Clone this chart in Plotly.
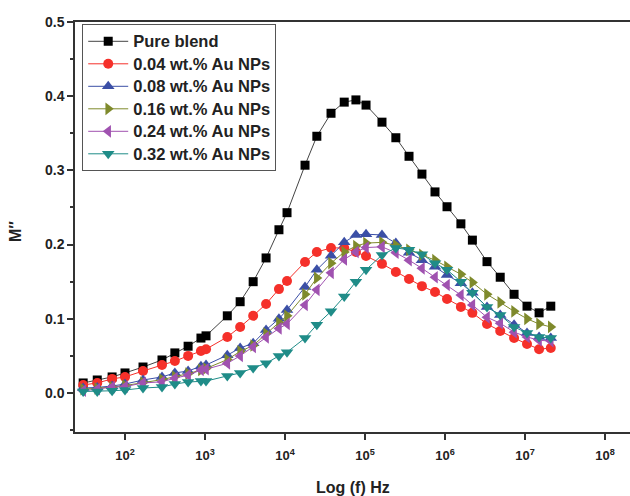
import plotly.graph_objects as go

freq = [30, 45, 69, 100, 168, 290, 420, 615, 890, 1030, 1900, 2750, 4000, 5800, 8400,
        10600, 17800, 25000, 37600, 55000, 77000, 103000, 163000, 243000, 355000, 515000,
        750000, 1060000, 1580000, 2200000, 3350000, 4900000, 7300000, 10600000, 15000000, 21000000]

pure_blend = [0.0135, 0.0175, 0.0216, 0.027, 0.035, 0.0445, 0.054, 0.063, 0.074, 0.077,
              0.104, 0.123, 0.150, 0.182, 0.220, 0.243, 0.307, 0.346, 0.377, 0.392, 0.395,
              0.388, 0.365, 0.344, 0.319, 0.295, 0.271, 0.251, 0.228, 0.206, 0.177, 0.156,
              0.133, 0.117, 0.108, 0.117]
au_004 = [0.0108, 0.0135, 0.019, 0.0216, 0.0296, 0.0377, 0.043, 0.050, 0.0566, 0.059,
          0.0755, 0.089, 0.104, 0.120, 0.140, 0.151, 0.1765, 0.190, 0.1955, 0.1955, 0.190,
          0.1846, 0.174, 0.163, 0.1536, 0.144, 0.136, 0.1267, 0.116, 0.108, 0.093, 0.0836,
          0.074, 0.066, 0.059, 0.0606]
au_008 = [0.0067, 0.0075, 0.0094, 0.012, 0.0175, 0.0216, 0.027, 0.0296, 0.036, 0.0377,
          0.051, 0.0606, 0.067, 0.085, 0.100, 0.112, 0.143, 0.166, 0.185, 0.203, 0.213,
          0.214, 0.213, 0.202, 0.189, 0.179, 0.170, 0.159, 0.148, 0.135, 0.116, 0.105,
          0.092, 0.081, 0.0755, 0.074]
au_016 = [0.005, 0.006, 0.008, 0.010, 0.014, 0.018, 0.022, 0.026, 0.031, 0.033,
          0.045, 0.056, 0.064, 0.080, 0.095, 0.104, 0.133, 0.155, 0.175, 0.190, 0.198,
          0.202, 0.203, 0.199, 0.193, 0.186, 0.179, 0.170, 0.160, 0.149, 0.133, 0.122,
          0.110, 0.100, 0.093, 0.089]
au_024 = [0.003, 0.005, 0.008, 0.0085, 0.0135, 0.015, 0.020, 0.024, 0.031, 0.032,
          0.040, 0.050, 0.062, 0.075, 0.087, 0.093, 0.1186, 0.139, 0.162, 0.180, 0.190,
          0.196, 0.197, 0.189, 0.179, 0.168, 0.156, 0.1455, 0.132, 0.1186, 0.102, 0.094,
          0.082, 0.0755, 0.071, 0.070]
au_032 = [0.002, 0.002, 0.003, 0.004, 0.0067, 0.008, 0.012, 0.0148, 0.016, 0.016,
          0.023, 0.027, 0.0337, 0.040, 0.050, 0.055, 0.074, 0.092, 0.110, 0.130, 0.150,
          0.166, 0.186, 0.1955, 0.193, 0.187, 0.175, 0.166, 0.150, 0.135, 0.116, 0.105,
          0.089, 0.081, 0.0755, 0.074]

names = ["Pure blend", "0.04 wt.% Au NPs", "0.08 wt.% Au NPs", "0.16 wt.% Au NPs",
         "0.24 wt.% Au NPs", "0.32 wt.% Au NPs"]
series = [pure_blend, au_004, au_008, au_016, au_024, au_032]
colors = ["#000000", "#f5302a", "#3b4fa6", "#7f8a2c", "#a052b0", "#1f8c88"]
line_colors = ["#444444", "#f5302a", "#3b4fa6", "#7f8a2c", "#a052b0", "#1f8c88"]
symbols = ["square", "circle", "triangle-up", "triangle-right", "triangle-left", "triangle-down"]
sizes = [9, 10, 11, 11, 11, 11]

xtick_vals = [1e2, 1e3, 1e4, 1e5, 1e6, 1e7, 1e8]
xtick_text = ["<b>10<sup>2</sup></b>", "<b>10<sup>3</sup></b>", "<b>10<sup>4</sup></b>",
              "<b>10<sup>5</sup></b>", "<b>10<sup>6</sup></b>", "<b>10<sup>7</sup></b>",
              "<b>10<sup>8</sup></b>"]
ytick_vals = [0.0, 0.1, 0.2, 0.3, 0.4, 0.5]
ytick_text = ["<b>0.0</b>", "<b>0.1</b>", "<b>0.2</b>", "<b>0.3</b>", "<b>0.4</b>", "<b>0.5</b>"]

fig = go.Figure()
for n, s, c, lc, sym, sz in zip(names, series, colors, line_colors, symbols, sizes):
    fig.add_trace(go.Scatter(
        x=freq, y=s,
        name="<b><span style='font-size:16.5px'>" + n + "</span></b>",
        mode="lines+markers",
        line=dict(color=lc, width=1),
        marker=dict(symbol=sym, size=sz, color=c, line=dict(width=0)),
    ))

font_family = "Liberation Sans, Arial, sans-serif"
fig.update_layout(
    width=630, height=496,
    margin=dict(l=75, r=0, t=22, b=64),
    paper_bgcolor="white", plot_bgcolor="white",
    font=dict(family=font_family, color="#222222"),
    showlegend=True,
    legend=dict(
        x=0.013, y=0.995, xanchor="left", yanchor="top",
        bgcolor="white", bordercolor="#555555", borderwidth=1,
        font=dict(size=15, family=font_family, color="#222222"),
        tracegroupgap=0, itemwidth=40,
    ),
    xaxis=dict(
        type="log", range=[1.375, 8.3125], automargin=False,
        tickvals=xtick_vals, ticktext=xtick_text,
        ticks="outside", ticklen=6, tickwidth=1.5, tickcolor="#333333",
        showline=True, linecolor="#333333", linewidth=1.5, mirror=True,
        showgrid=False, zeroline=False, ticklabelstandoff=5,
        tickfont=dict(size=13, family=font_family, color="#222222"),
    ),
    yaxis=dict(
        range=[-0.0526, 0.5], automargin=False,
        tickvals=ytick_vals, ticktext=ytick_text,
        ticks="outside", ticklen=6, tickwidth=1.5, tickcolor="#333333",
        minor=dict(dtick=0.05, ticks="outside", ticklen=3, tickcolor="#333333", tick0=0),
        showline=True, linecolor="#333333", linewidth=1.5, mirror=False,
        showgrid=False, zeroline=False,
        tickfont=dict(size=14, family=font_family, color="#222222"),
    ),
    annotations=[
        dict(text="<b>Log (f) Hz</b>", xref="paper", yref="paper", x=0.5, y=0,
             yshift=-55, xanchor="center", yanchor="middle", showarrow=False,
             font=dict(size=16, family=font_family, color="#222222")),
        dict(text="<b>M\u2033</b>", xref="paper", yref="paper", x=0, y=0.5,
             xshift=-60, yshift=-5, xanchor="center", yanchor="middle", showarrow=False,
             textangle=-90,
             font=dict(size=16, family=font_family, color="#222222")),
    ],
)

fig.write_html("out.html", config={"displayModeBar": False},
               post_script="document.body.style.margin='0';document.body.style.padding='0';")
